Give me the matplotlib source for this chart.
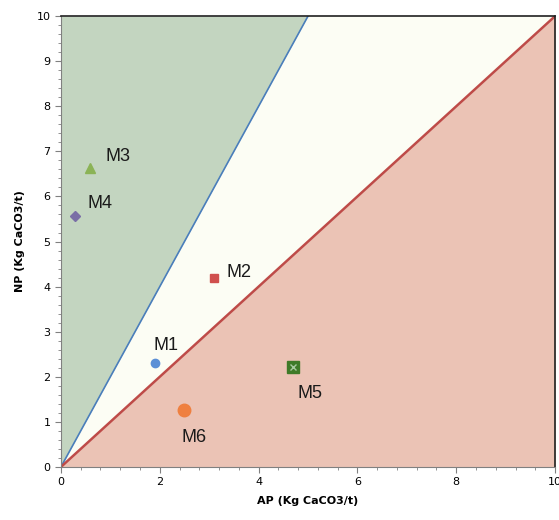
import matplotlib
matplotlib.use("Agg")
import matplotlib.pyplot as plt
import numpy as np

names = ["M1", "M2", "M3", "M4", "M5", "M6"]
ap = [1.9, 3.1, 0.59, 0.28, 4.7, 2.49]
np_vals = [2.3, 4.2, 6.63, 5.57, 2.22, 1.26]
markers = ["o", "s", "^", "D", "s", "o"]
colors = ["#5b8fd6", "#d0504d", "#8bb356", "#7a6ea6", "#3f7a28", "#ef8040"]
sizes = [6, 6, 7, 5, 8, 9]
offsets = [(8, 13), (18, 4), (20, 8), (18, 9), (12, -19), (7, -20)]

fig = plt.figure(figsize=(5.59, 5.2), dpi=100)
ax = fig.add_axes([0.109, 0.102, 0.884, 0.867])

xs = np.linspace(0, 10, 201)
upper = np.minimum(2 * xs, 10)
ax.fill_between(xs, upper, 10, color="#c3d5c0", lw=0, zorder=0)
ax.fill_between(xs, xs, upper, color="#fcfdf4", lw=0, zorder=0)
ax.fill_between(xs, 0, xs, color="#ebc3b5", lw=0, zorder=0)
ax.plot([0, 5], [0, 10], color="#4a7ebb", lw=1.2, zorder=2)
ax.plot([0, 10], [0, 10], color="#be4b48", lw=1.8, zorder=2)

for n, x, y, m, c, s, off in zip(names, ap, np_vals, markers, colors, sizes, offsets):
    ax.plot(x, y, marker=m, color=c, markersize=s, markeredgecolor=c, ls="none", zorder=3)
    if n == "M5":
        ax.plot(x, y, marker="x", color="#a8c8a0", markersize=4, mew=1, ls="none", zorder=4)
    ax.annotate(n, (x, y), xytext=off, textcoords="offset points", ha="center", va="center",
                fontsize=13, color="#1a1a1a", family="Liberation Sans", zorder=5)

ax.set_xlim(0, 10)
ax.set_ylim(0, 10)
ax.set_xticks([0, 2, 4, 6, 8, 10])
ax.set_yticks(range(0, 11))
ax.set_xticks(np.arange(0, 10.01, 0.4), minor=True)
ax.set_yticks(np.arange(0, 10.01, 0.2), minor=True)
ax.tick_params(axis="both", which="major", labelsize=8, length=4, color="#808080", direction="out")
ax.tick_params(axis="both", which="minor", length=2.5, color="#808080", direction="out")
for sp in ["top", "right"]:
    ax.spines[sp].set_color("#202020")
    ax.spines[sp].set_linewidth(1.2)
for sp in ["left", "bottom"]:
    ax.spines[sp].set_color("#808080")
ax.set_xlabel("AP (Kg CaCO3/t)", fontsize=8, fontweight="bold", labelpad=6)
ax.set_ylabel("NP (Kg CaCO3/t)", fontsize=8, fontweight="bold", labelpad=8)

fig.savefig("out.png", dpi=100)
